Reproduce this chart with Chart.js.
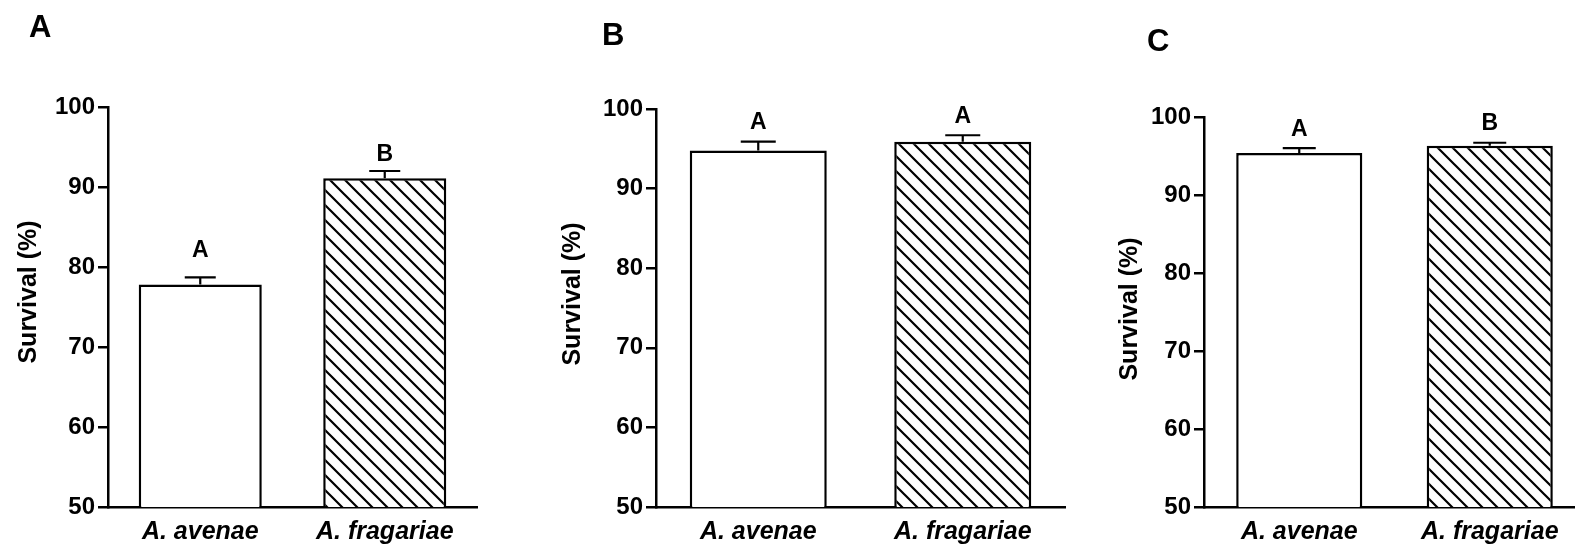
<!DOCTYPE html>
<html>
<head>
<meta charset="utf-8">
<script src="https://cdn.jsdelivr.net/npm/chart.js@4.4.1/dist/chart.umd.min.js"></script>
<style>
  html, body { margin: 0; padding: 0; background: #fff; overflow: hidden; width: 1575px; height: 550px; }
  .panel { position: absolute; top: 0; }
  canvas { display: block; }
</style>
</head>
<body>
<div class="panel" style="left:0px"><canvas id="chartA" width="500" height="550"></canvas></div>
<div class="panel" style="left:530px"><canvas id="chartB" width="560" height="550"></canvas></div>
<div class="panel" style="left:1050px"><canvas id="chartC" width="560" height="550"></canvas></div>
<script>
// Species on the x axis
const species = ['A. avenae', 'A. fragariae'];

// Survival (%) means, upper error (SE) and significance letters for each panel
const survivalA = [77.8, 91.1];
const errorA = [0.9, 0.9];
const lettersA = ['A', 'B'];

const survivalB = [94.8, 95.9];
const errorB = [1.1, 0.8];
const lettersB = ['A', 'A'];

const survivalC = [95.4, 96.3];
const errorC = [0.6, 0.4];
const lettersC = ['A', 'B'];

// Y axis range and tick step
const yMin = 50;
const yMax = 100;
const yStep = 10;
const yTitle = 'Survival (%)';

const FONT = "'Liberation Sans', Arial, Helvetica, sans-serif";
Chart.defaults.font.family = FONT;
Chart.defaults.color = '#000';

// Diagonal hatch fill (top-left to bottom-right lines)
function hatchPattern(ctx) {
  const s = 15;
  const tile = document.createElement('canvas');
  tile.width = s; tile.height = s;
  const g = tile.getContext('2d');
  g.fillStyle = '#fff';
  g.fillRect(0, 0, s, s);
  g.strokeStyle = '#000';
  g.lineWidth = 2.2;
  g.beginPath();
  g.moveTo(-3, -3); g.lineTo(s + 3, s + 3);
  g.moveTo(-3, s - 3); g.lineTo(3, s + 3);
  g.moveTo(s - 3, -3); g.lineTo(s + 3, 3);
  g.stroke();
  return ctx.createPattern(tile, 'repeat');
}

// Error caps, significance letters, y-axis title and panel letter
const annotate = {
  id: 'annotate',
  afterDatasetsDraw(chart, args, opts) {
    const ctx = chart.ctx;
    const y = chart.scales.y;
    const area = chart.chartArea;
    const meta = chart.getDatasetMeta(0);
    const values = chart.data.datasets[0].data;
    ctx.save();
    ctx.strokeStyle = '#000';
    ctx.fillStyle = '#000';
    ctx.lineWidth = 2.2;
    meta.data.forEach((bar, i) => {
      const base = y.getPixelForValue(values[i]);
      const top = y.getPixelForValue(values[i] + opts.errors[i]);
      ctx.beginPath();
      ctx.moveTo(bar.x, base);
      ctx.lineTo(bar.x, top);
      ctx.moveTo(bar.x - opts.capHalf, top);
      ctx.lineTo(bar.x + opts.capHalf, top);
      ctx.stroke();
      ctx.font = 'bold 23px ' + FONT;
      ctx.textAlign = 'center';
      ctx.textBaseline = 'alphabetic';
      ctx.fillText(opts.letters[i], bar.x, top - opts.letterGap[i]);
    });

    // rotated axis title
    ctx.save();
    ctx.translate(opts.titleX, (area.top + area.bottom) / 2 - opts.titleShift);
    ctx.rotate(-Math.PI / 2);
    ctx.font = 'bold 25px ' + FONT;
    ctx.textAlign = 'center';
    ctx.textBaseline = 'middle';
    ctx.fillText(yTitle, 0, 0);
    ctx.restore();

    ctx.font = 'bold 31px ' + FONT;
    ctx.textAlign = 'left';
    ctx.textBaseline = 'alphabetic';
    ctx.fillText(opts.panel, opts.panelX, opts.panelY);
    ctx.restore();
  }
};

function makePanel(id, values, errors, letters, panel, lay) {
  const canvas = document.getElementById(id);
  const ctx = canvas.getContext('2d');
  const W = canvas.width, H = canvas.height;
  return new Chart(ctx, {
    type: 'bar',
    data: {
      labels: species,
      datasets: [{
        data: values,
        backgroundColor: ['#ffffff', hatchPattern(ctx)],
        borderColor: '#000',
        borderWidth: 2.5,
        borderSkipped: false,
        categoryPercentage: 1,
        barPercentage: lay.barPct
      }]
    },
    options: {
      responsive: false,
      animation: false,
      devicePixelRatio: 1,
      layout: { padding: { top: lay.top, left: 0, right: W - lay.right, bottom: 0 } },
      plugins: {
        legend: { display: false },
        tooltip: { enabled: false },
        annotate: {
          errors: errors, letters: letters, panel: panel,
          capHalf: lay.capHalf, letterGap: lay.letterGap,
          titleX: lay.titleX, titleShift: lay.titleShift,
          panelX: lay.panelX, panelY: lay.panelY
        }
      },
      scales: {
        x: {
          ticks: { color: '#000', font: { size: 25, weight: 'bold', style: 'italic' }, padding: 10, autoSkip: false, maxRotation: 0 },
          grid: { display: false, drawTicks: false },
          border: { display: true, color: '#000', width: 2.5 },
          afterFit: s => { s.height = H - lay.bottom; }
        },
        y: {
          min: yMin, max: yMax,
          ticks: { stepSize: yStep, color: '#000', font: { size: 24, weight: 'bold' }, padding: 3 },
          grid: { drawOnChartArea: false, drawTicks: true, tickLength: 10, color: '#000', lineWidth: 2.5 },
          border: { display: true, color: '#000', width: 2.5 },
          title: { display: false, text: yTitle },
          afterFit: s => { s.width = lay.left; }
        }
      }
    },
    plugins: [annotate]
  });
}

makePanel('chartA', survivalA, errorA, lettersA, 'A',
  { left: 108, right: 477, top: 107, bottom: 507, barPct: 0.667, capHalf: 15.5, letterGap: [20, 10],
    titleX: 29, titleShift: 15, panelX: 29, panelY: 37 });
makePanel('chartB', survivalB, errorB, lettersB, 'B',
  { left: 126, right: 535, top: 109, bottom: 507, barPct: 0.67, capHalf: 17.5, letterGap: [13, 12],
    titleX: 43, titleShift: 14, panelX: 72, panelY: 45 });
makePanel('chartC', survivalC, errorC, lettersC, 'C',
  { left: 154, right: 535, top: 117, bottom: 507, barPct: 0.662, capHalf: 16.5, letterGap: [12, 13],
    titleX: 80, titleShift: 3, panelX: 97, panelY: 51 });
</script>
</body>
</html>
